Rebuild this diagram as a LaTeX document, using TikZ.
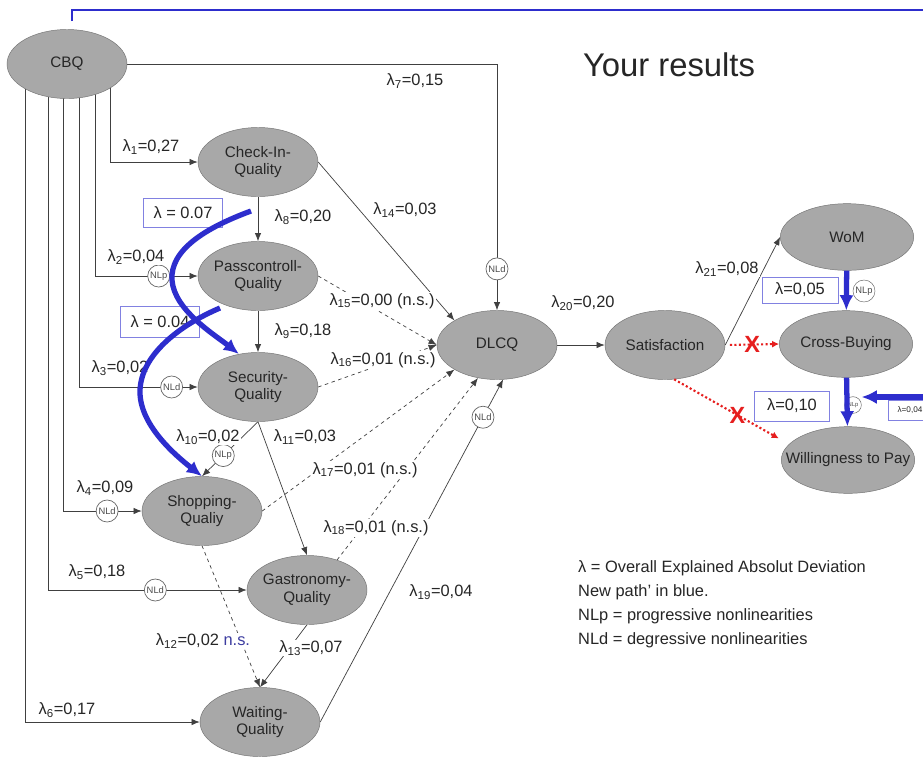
\documentclass[tikz,border=0pt]{standalone}
\usepackage{fontspec}
\setmainfont{Liberation Sans}
\usetikzlibrary{shapes.geometric,arrows.meta,calc,backgrounds}
\definecolor{nodegray}{RGB}{168,168,168}
\definecolor{pathblue}{RGB}{45,45,205}
\definecolor{nsblue}{RGB}{60,60,160}
\definecolor{crossred}{RGB}{230,30,30}
\newcommand{\lamsub}[1]{λ\textsubscript{#1}}

\begin{document}
\begin{tikzpicture}[
            x=0.03cm, y=-0.03cm,
            font=\fontsize{13}{15}\selectfont,
            latent/.style={ellipse, draw=black!55, fill=nodegray, minimum width=3.6cm,
                        minimum height=2.07cm, inner xsep=-3pt, inner ysep=0pt, align=center, text=black!85},
            outcome/.style={latent, minimum width=4.0cm, minimum height=2.0cm},
            nl/.style={circle, draw=black!60, fill=white, inner sep=0pt, minimum size=0.66cm,
                        font=\fontsize{8}{9}\selectfont, text=black!70},
            conn/.style={draw=black!75, line width=0.6pt, -{Latex[length=7pt,width=5.5pt]}},
            nsconn/.style={conn, dashed},
            lbl/.style={fill=white, inner sep=1pt, text=black!85, font=\fontsize{14}{16}\selectfont},
            newpath/.style={pathblue, line width=4.5pt, -{Latex[length=13pt,width=12pt]}},
            bluebox/.style={draw=pathblue!60, fill=white, line width=0.6pt, minimum width=2.35cm,
                        minimum height=0.85cm, text=black!85, font=\fontsize{14}{16}\selectfont},
            nopath/.style={crossred, line width=1.8pt, dotted, -{Latex[length=6pt,width=6pt]}},
            xmark/.style={text=crossred, inner sep=0pt, font=\fontsize{20}{20}\selectfont\bfseries}
        ]
            \useasboundingbox (0,0) rectangle (923,773);

            % Latent variables
            \node[latent] (cbq) at (67,64) {CBQ};
            \node[latent] (chk) at (258,162) {Check-In-\\Quality};
            \node[latent] (pass) at (258,276) {Passcontroll-\\Quality};
            \node[latent] (sec) at (258,387) {Security-\\Quality};
            \node[latent] (shop) at (202,511) {Shopping-\\Qualiy};
            \node[latent] (gas) at (307,590) {Gastronomy-\\Quality};
            \node[latent] (wait) at (260,722) {Waiting-\\Quality};
            \node[latent] (dlcq) at (497,345) {DLCQ};
            \node[latent] (sat) at (665,345) {Satisfaction};
            \node[outcome] (wom) at (847,237) {WoM};
            \node[outcome] (cross) at (846,344) {Cross-Buying};
            \node[outcome, inner xsep=-0.5cm] (wtp) at (848,460) {Willingness to Pay};

            % Title and legend
            \node[font=\fontsize{28}{30}\selectfont, text=black!85] (title) at (669,65) {Your results};
            \node[anchor=north west, align=left, inner sep=0pt, text=black!85,
                  font=\fontsize{14}{20.5}\selectfont] (legend) at (578,560)
                 {λ = Overall Explained Absolut Deviation\\New path' in blue.\\NLp = progressive nonlinearities\\NLd = degressive nonlinearities};

            \begin{scope}[on background layer]
            \fill[white] (0,0) rectangle (923,773);
            % Paths from CBQ
            \draw[conn] (cbq.east) -| node[nl, pos=0.916] (nl7) {NLd} (dlcq);
            \draw[conn] ($(cbq)+(43,0)$) |- (chk);
            \draw[conn] ($(cbq)+(28,0)$) |- node[nl, pos=0.81] (nl2) {NLp} (pass);
            \draw[conn] ($(cbq)+(12,0)$) |- node[nl, pos=0.89] (nl3) {NLd} (sec);
            \draw[conn] ($(cbq)+(-4,0)$) |- node[nl, pos=0.78] (nl4) {NLd} (shop);
            \draw[conn] ($(cbq)+(-19,0)$) |- node[nl, pos=0.77] (nl5) {NLd} (gas);
            \draw[conn] ($(cbq)+(-42,0)$) |- (wait);
            % Quality chain
            \draw[conn] (chk) -- (pass);
            \draw[conn] (pass) -- (sec);
            \draw[conn] (sec.south) -- node[nl, pos=0.62] (nl10) {NLp} (shop.north);
            \draw[conn] (sec.south) -- (gas.north);
            \draw[nsconn] (shop.south) -- (wait.north);
            \draw[conn] (gas.south) -- (wait.north);
            % Into DLCQ
            \draw[conn] (chk.east) -- (dlcq.north west);
            \draw[nsconn] (pass.east) -- (dlcq.west);
            \draw[nsconn] (sec.east) -- (dlcq.west);
            \draw[nsconn] (shop.east) -- (dlcq.210);
            \draw[nsconn] (gas.45) -- (dlcq.240);
            \draw[conn] (wait.east) -- node[nl, pos=0.89] (nl19) {NLd} (dlcq.280);
            % Outcomes
            \draw[conn] (dlcq) -- (sat);
            \draw[conn] (sat.east) -- (wom.west);
            \end{scope}

            % Path coefficients
            \node[lbl] (l1) at (151,147) {\lamsub{1}=0,27};
            \node[lbl] (l2) at (136,257) {\lamsub{2}=0,04};
            \node[lbl] (l3) at (120,368) {\lamsub{3}=0,02};
            \node[lbl] (l4) at (105,488) {\lamsub{4}=0,09};
            \node[lbl] (l5) at (97,572) {\lamsub{5}=0,18};
            \node[lbl] (l6) at (67,710) {\lamsub{6}=0,17};
            \node[lbl] (l7) at (415,81) {\lamsub{7}=0,15};
            \node[lbl] (l8) at (303,217) {\lamsub{8}=0,20};
            \node[lbl] (l9) at (303,331) {\lamsub{9}=0,18};
            \node[lbl] (l10) at (208,437) {\lamsub{10}=0,02};
            \node[lbl] (l11) at (305,437) {\lamsub{11}=0,03};
            \node[lbl] (l12) at (203,641) {\lamsub{12}=0,02 \textcolor{nsblue}{n.s.}};
            \node[lbl] (l13) at (311,648) {\lamsub{13}=0,07};
            \node[lbl] (l14) at (405,210) {\lamsub{14}=0,03};
            \node[lbl] (l15) at (382,301) {\lamsub{15}=0,00 (n.s.)};
            \node[lbl] (l16) at (383,360) {\lamsub{16}=0,01 (n.s.)};
            \node[lbl] (l17) at (365,470) {\lamsub{17}=0,01 (n.s.)};
            \node[lbl] (l18) at (376,528) {\lamsub{18}=0,01 (n.s.)};
            \node[lbl] (l19) at (441,592) {\lamsub{19}=0,04};
            \node[lbl] (l20) at (583,303) {\lamsub{20}=0,20};
            \node[lbl] (l21) at (727,269) {\lamsub{21}=0,08};

            % New paths (blue)
            \node[bluebox] (b1) at (183,213) {λ = 0.07};
            \node[bluebox, minimum height=0.93cm] (b2) at (160,322) {λ = 0.04};
            \coordinate (c1) at (251,211);
            \coordinate (c2) at (220,308);
            \draw[newpath] (c1) .. controls (205,228) and (170,250) .. (172,280)
                .. controls (174,310) and (215,335) .. (sec.120);
            \draw[newpath] (c2) .. controls (180,325) and (140,355) .. (140,392)
                .. controls (140,425) and (175,455) .. (shop.north);

            \node[bluebox, minimum width=2.28cm, minimum height=0.78cm] (b3) at (800,290) {λ=0,05};
            \node[nl] (nl20) at (864,291) {NLp};
            \draw[newpath] (wom) -- (cross);
            \node[bluebox, minimum width=2.25cm, minimum height=0.9cm] (b4) at (792,406) {λ=0,10};
            \node[nl, minimum size=0.5cm, font=\fontsize{5}{6}\selectfont] (nl21) at (853,405) {NLp};
            \draw[newpath] (cross) -- (wtp);
            \node[bluebox, anchor=west, minimum width=1.3cm, minimum height=0.6cm, inner xsep=2pt,
                  font=\fontsize{7}{8}\selectfont] (b5) at (888,410) {λ=0,04};
            \coordinate (rightin) at (940,397);
            \draw[newpath] (rightin) -- (rightin -| nl21.east);

            % Rejected paths
            \draw[nopath, shorten <=4pt] (sat.east) -- node[xmark] (x1) {X} (cross.west);
            \draw[nopath, shorten >=10pt] (sat.-75) -- node[xmark, pos=0.55] (x2) {X} (wtp.165);

            % Frame
            \draw[pathblue, line width=2.4pt] (72,21) -- (72,10) -- (930,10);
        \end{tikzpicture}
\end{document}
